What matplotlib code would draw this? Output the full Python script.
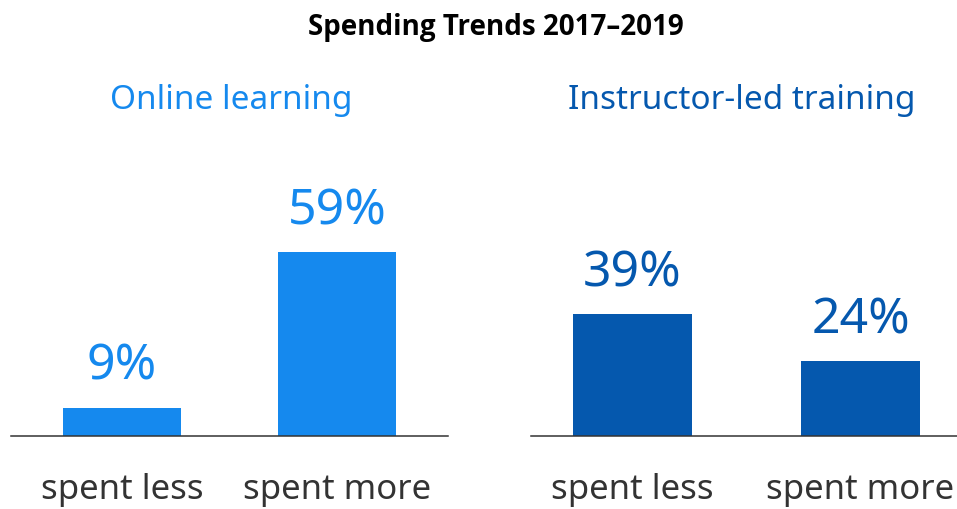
import matplotlib
matplotlib.use("Agg")
import matplotlib.pyplot as plt

# Survey data: share of organisations that changed spending, 2017-2019
categories = ["spent less", "spent more"]
online_learning = [9, 59]
instructor_led = [39, 24]
panel_titles = ["Online learning", "Instructor-led training"]
chart_title = "Spending Trends 2017\u20132019"

W, H, DPI = 957, 510, 100
fig = plt.figure(figsize=(W / DPI, H / DPI), dpi=DPI)
fig.patch.set_facecolor("white")

FONT = "Noto Sans"
LIGHT = "#1589EE"
DARK = "#0558AE"
AXIS = "#333333"
TEXT = "#333333"

baseline_px = 437
top_px = 60


def px_axes(left, right):
    return [left / W, (H - baseline_px) / H, (right - left) / W, (baseline_px - top_px) / H]


panels = [
    (online_learning, LIGHT, px_axes(11, 448), (-0.516, 1.516), 0.549, 231),
    (instructor_led, DARK, px_axes(531, 957), (-0.445, 1.423), 0.518, 742),
]

for (values, color, rect, xlim, width, title_x), title in zip(panels, panel_titles):
    ax = fig.add_axes(rect)
    ax.set_facecolor("none")
    xs = range(len(categories))
    ax.bar(xs, values, width=width, color=color, zorder=2)
    ax.set_xlim(*xlim)
    ax.set_ylim(0, 121)
    for s in ("top", "left", "right"):
        ax.spines[s].set_visible(False)
    ax.spines["bottom"].set_color(AXIS)
    ax.spines["bottom"].set_linewidth(1.1)
    ax.set_yticks([])
    ax.set_xticks(list(xs))
    ax.set_xticklabels(categories, fontsize=25, family=FONT, color=TEXT)
    ax.tick_params(axis="x", length=0, pad=45)
    for lbl in ax.get_xticklabels():
        lbl.set_verticalalignment("baseline")
    for x, v in zip(xs, values):
        ax.annotate(f"{v}%", xy=(x, v), xytext=(0, 21), textcoords="offset points",
                    ha="center", va="baseline", fontsize=36, family=FONT, color=color)
    fig.text(title_x / W, (H - 109) / H, title, ha="center", va="baseline",
             fontsize=24, family=FONT, color=color)

fig.text(496 / W, (H - 35) / H, chart_title, ha="center", va="baseline",
         fontsize=20, fontweight="bold", family="Open Sans", color="black")

fig.savefig("out.png", dpi=DPI)
